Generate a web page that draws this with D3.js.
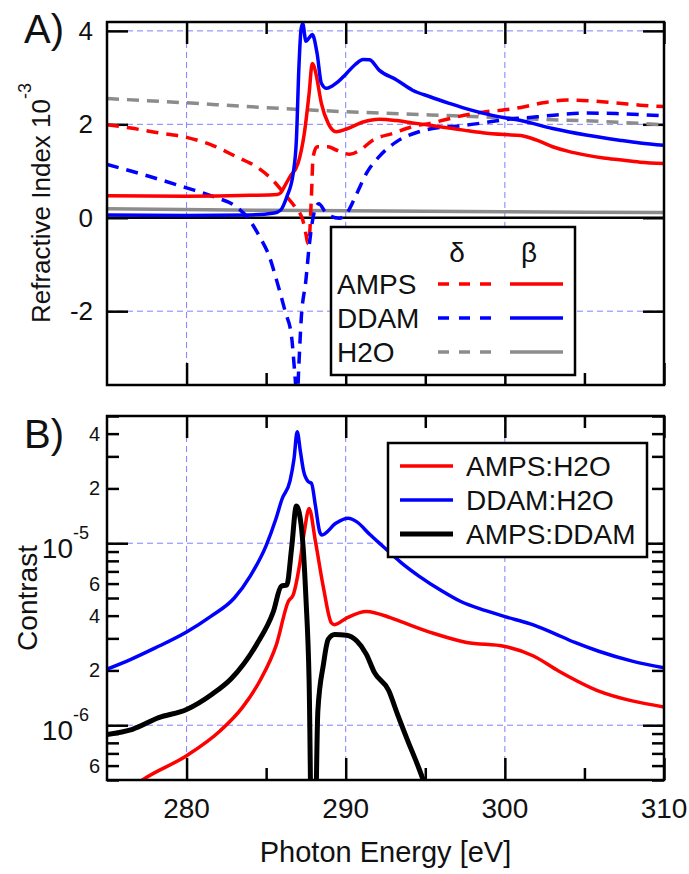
<!DOCTYPE html>
<html>
<head>
<meta charset="utf-8">
<script src="https://cdn.jsdelivr.net/npm/d3@7"></script>
<style>
  body { margin: 0; background: #fff; }
  text { font-family: "Liberation Sans", Arial, sans-serif; fill: #111; }
</style>
</head>
<body>
<div id="chart"></div>
<script>
const width = 689
const height = 874
const xLeft = 107
const xRight = 664
const panelA = { top: 22, bottom: 385 }
const panelB = { top: 416, bottom: 780 }

// x axis
const xMajorTicks = [280, 290, 300, 310]
const xMinorTicks = [285, 295, 305]
const xGrid = [280, 290, 300]

// panel A (refractive index, 1e-3)
const aTicks = [4, 2, 0, -2]
const aGrid = [4, 2, -2]
// [photon energy, value]
const ampsDelta = [[275,1.99],[276.5,1.92],[278,1.83],[280,1.72],[281.7,1.54],[283.1,1.31],[284.4,1.09],[285.4,0.81],[286.3,0.45],[286.8,0.24],[287.3,-0.05],[287.5,-0.35],[287.62,-0.55],[287.72,-0.4],[287.85,0.5],[287.95,1.3],[288.2,1.52],[288.9,1.52],[289.4,1.45],[290.25,1.36],[290.9,1.45],[291.7,1.66],[293,1.81],[294.2,1.95],[295.3,2.02],[297,2.16],[298.6,2.26],[300,2.31],[301,2.36],[302.4,2.46],[303.9,2.52],[305.5,2.5],[307.2,2.45],[308.5,2.41],[310,2.38]]
const ampsBeta = [[275,0.47],[280,0.46],[284,0.48],[285.7,0.5],[285.9,0.53],[286.2,0.7],[286.5,0.88],[287,1.16],[287.4,1.81],[287.7,2.66],[287.9,3.3],[288,3.25],[288.15,3.05],[288.47,2.45],[288.9,2.02],[289.4,1.84],[290.05,1.9],[291.1,2.05],[292.1,2.11],[293.2,2.08],[294.2,2.03],[295.3,1.98],[296.5,1.92],[297.5,1.87],[298.6,1.82],[300,1.78],[301,1.76],[302,1.66],[303,1.52],[304,1.42],[305.1,1.34],[306.2,1.28],[307.2,1.24],[308.5,1.19],[310,1.16]]
const ddamDelta = [[275,1.14],[276.5,1.0],[278,0.85],[280,0.64],[281.7,0.45],[283.1,0.24],[283.8,0.02],[284.6,-0.41],[285.2,-0.83],[285.65,-1.33],[286.2,-2.01],[286.6,-2.55],[286.8,-3.33],[286.95,-3.9],[287.05,-3.2],[287.2,-2.19],[287.5,-1.33],[287.7,-0.62],[288,0.09],[288.3,0.3],[288.8,0.09],[289.6,-0.01],[290.05,0.09],[290.7,0.52],[291.3,0.95],[292.1,1.31],[293.2,1.63],[294.6,1.84],[295.9,1.93],[297.3,1.97],[298.6,2.03],[300,2.1],[302,2.16],[303.5,2.21],[305.1,2.24],[307,2.23],[310,2.18]]
const ddamBeta = [[275,0.06],[280,0.05],[284,0.06],[285.5,0.1],[285.9,0.16],[286.3,0.45],[286.7,0.95],[286.9,1.66],[287.06,3.23],[287.2,4.05],[287.3,4.15],[287.5,3.78],[287.7,3.85],[287.9,3.92],[288.2,3.52],[288.47,2.88],[288.8,2.77],[289.4,2.88],[290.05,3.09],[290.6,3.28],[291.1,3.39],[291.5,3.38],[292.1,3.16],[293.2,2.95],[294.2,2.73],[295.3,2.59],[296.5,2.45],[297.5,2.34],[298.6,2.24],[300,2.14],[301,2.08],[303,1.91],[305.1,1.77],[307.2,1.66],[308.5,1.6],[310,1.55]]
const waterDelta = [[275,2.55],[280,2.46],[283.8,2.38],[290,2.27],[295.3,2.2],[300,2.14],[302,2.11],[306.2,2.06],[310,1.99]]
const waterBeta = [[275,0.19],[285,0.16],[290,0.15],[300,0.13],[310,0.11]]

// panel B (contrast, log)
const bMinorLabels = [2, 4, 6]
const ampsWater = [[275,3.6e-7],[276.2,4.3e-7],[277.3,5.05e-7],[280,6.8e-7],[282.1,9.3e-7],[283.5,1.25e-6],[284.6,1.75e-6],[285.65,2.78e-6],[286.4,4.8e-6],[286.7,5.2e-6],[287.1,7.6e-6],[287.4,1.16e-5],[287.7,1.55e-5],[288.1,1.02e-5],[288.6,5.7e-6],[289.1,3.65e-6],[289.3,3.57e-6],[290.05,3.88e-6],[291.3,4.22e-6],[292.8,3.9e-6],[293.4,3.73e-6],[295.5,3.2e-6],[297.6,2.85e-6],[300,2.71e-6],[301.8,2.4e-6],[303.4,1.98e-6],[305.9,1.54e-6],[308,1.36e-6],[310,1.26e-6]]
const ddamWater = [[275,2.03e-6],[276.5,2.3e-6],[278,2.65e-6],[280,3.25e-6],[281.5,3.95e-6],[283,5.0e-6],[284,6.6e-6],[285,9.7e-6],[285.6,1.35e-5],[286,1.75e-5],[286.5,2.2e-5],[286.75,2.9e-5],[286.95,4.1e-5],[287.15,3.2e-5],[287.35,2.5e-5],[287.65,2.18e-5],[287.85,2.13e-5],[288.1,1.6e-5],[288.37,1.15e-5],[288.5,1.11e-5],[289.4,1.29e-5],[290.15,1.37e-5],[290.7,1.31e-5],[291.5,1.12e-5],[292.35,9.6e-6],[293.5,7.8e-6],[294.6,6.6e-6],[296,5.5e-6],[297.2,4.8e-6],[298.8,4.26e-6],[300,3.95e-6],[301.6,3.6e-6],[302.8,3.28e-6],[304.4,2.85e-6],[305.9,2.55e-6],[308,2.25e-6],[310,2.07e-6]]
const ampsDdam = [[275,8.9e-7],[276.6,9.5e-7],[278.25,1.1e-6],[280,1.22e-6],[281.6,1.48e-6],[282.8,1.8e-6],[284.4,2.78e-6],[285.45,4.2e-6],[285.95,5.8e-6],[286.3,5.9e-6],[286.6,9.4e-6],[286.9,1.6e-5],[287.2,1.26e-5],[287.5,5.0e-6],[287.7,1.75e-6],[287.95,5e-8],[288.25,1.2e-6],[288.6,2.16e-6],[288.9,2.96e-6],[289.3,3.15e-6],[290.05,3.12e-6],[290.7,2.9e-6],[291.3,2.45e-6],[291.8,1.95e-6],[292.7,1.55e-6],[293.25,1.15e-6],[293.9,8.2e-7],[294.5,6.1e-7],[294.9,4.9e-7],[295.2,4.0e-7]]

const red = '#ff0000'
const blue = '#0000ff'
const gray = '#8c8c8c'
const gridColor = '#8080ff'

const x = d3.scaleLinear().domain([275, 310]).range([xLeft, xRight])
const yA = d3.scaleLinear().domain([-3.58, 4.19]).range([panelA.bottom, panelA.top])
const yB = d3.scaleLog().domain([5e-7, 5e-5]).range([panelB.bottom, panelB.top])

const svg = d3.select('#chart').append('svg')
  .attr('width', width)
  .attr('height', height)

const clip = (id, p) => svg.append('clipPath').attr('id', id)
  .append('rect')
    .attr('x', xLeft).attr('y', p.top)
    .attr('width', xRight - xLeft).attr('height', p.bottom - p.top)
clip('clipA', panelA)
clip('clipB', panelB)

const strip = g => g.call(g => g.selectAll('.domain, text').remove())
  .call(g => g.selectAll('line').attr('stroke', '#000').attr('stroke-width', 2.5))

// grids
const grid = (p, yScale, yVals) => {
  const g = svg.append('g')
    .attr('stroke', gridColor)
    .attr('stroke-width', 1)
    .attr('stroke-dasharray', '6,4')
  g.selectAll('.vg').data(xGrid).enter().append('line')
    .attr('x1', d => x(d)).attr('x2', d => x(d))
    .attr('y1', p.top).attr('y2', p.bottom)
  g.selectAll('.hg').data(yVals).enter().append('line')
    .attr('x1', xLeft).attr('x2', xRight)
    .attr('y1', d => yScale(d)).attr('y2', d => yScale(d))
}
grid(panelA, yA, aGrid)
grid(panelB, yB, [1e-5, 1e-6])

// inward ticks on all four sides
const xTickAxes = p => {
  svg.append('g').attr('transform', `translate(0,${p.bottom})`)
    .call(d3.axisBottom(x).tickValues(xMajorTicks).tickSize(-22)).call(strip)
  svg.append('g').attr('transform', `translate(0,${p.bottom})`)
    .call(d3.axisBottom(x).tickValues(xMinorTicks).tickSize(-12)).call(strip)
  svg.append('g').attr('transform', `translate(0,${p.top})`)
    .call(d3.axisTop(x).tickValues(xMajorTicks).tickSize(-22)).call(strip)
  svg.append('g').attr('transform', `translate(0,${p.top})`)
    .call(d3.axisTop(x).tickValues(xMinorTicks).tickSize(-12)).call(strip)
}
xTickAxes(panelA)
xTickAxes(panelB)

svg.append('g').attr('transform', `translate(${xLeft},0)`)
  .call(d3.axisLeft(yA).tickValues(aTicks).tickSize(-21)).call(strip)
svg.append('g').attr('transform', `translate(${xRight},0)`)
  .call(d3.axisRight(yA).tickValues(aTicks).tickSize(-21)).call(strip)

const isDecade = d => Math.abs(Math.log10(d) - Math.round(Math.log10(d))) < 1e-6
const bTicks = yB.ticks()
const bMajor = bTicks.filter(isDecade)
const bMinor = bTicks.filter(d => !isDecade(d))
;[[d3.axisLeft, xLeft], [d3.axisRight, xRight]].forEach(([axis, px]) => {
  svg.append('g').attr('transform', `translate(${px},0)`)
    .call(axis(yB).tickValues(bMajor).tickSize(-21)).call(strip)
  svg.append('g').attr('transform', `translate(${px},0)`)
    .call(axis(yB).tickValues(bMinor).tickSize(-12)).call(strip)
})

// zero line
svg.append('line')
  .attr('x1', xLeft).attr('x2', xRight)
  .attr('y1', yA(0)).attr('y2', yA(0))
  .attr('stroke', '#000').attr('stroke-width', 2.5)

// curves
const lineA = d3.line().x(d => x(d[0])).y(d => yA(d[1])).curve(d3.curveMonotoneX)
const lineB = d3.line().x(d => x(d[0])).y(d => yB(d[1])).curve(d3.curveMonotoneX)

const seriesA = [
  { data: waterBeta, color: gray, dash: null },
  { data: waterDelta, color: gray, dash: '12,8' },
  { data: ampsDelta, color: red, dash: '12,8' },
  { data: ddamDelta, color: blue, dash: '12,8' },
  { data: ampsBeta, color: red, dash: null },
  { data: ddamBeta, color: blue, dash: null },
]
svg.append('g').attr('clip-path', 'url(#clipA)')
  .selectAll('path').data(seriesA).enter().append('path')
    .attr('d', d => lineA(d.data))
    .attr('fill', 'none')
    .attr('stroke', d => d.color)
    .attr('stroke-width', 3.5)
    .attr('stroke-dasharray', d => d.dash)

const seriesB = [
  { data: ddamWater, color: blue, w: 3.5 },
  { data: ampsWater, color: red, w: 3.5 },
  { data: ampsDdam, color: '#000', w: 5 },
]
svg.append('g').attr('clip-path', 'url(#clipB)')
  .selectAll('path').data(seriesB).enter().append('path')
    .attr('d', d => lineB(d.data))
    .attr('fill', 'none')
    .attr('stroke', d => d.color)
    .attr('stroke-width', d => d.w)
    .attr('stroke-linejoin', 'round')

// frames
;[panelA, panelB].forEach(p => svg.append('rect')
  .attr('x', xLeft).attr('y', p.top)
  .attr('width', xRight - xLeft).attr('height', p.bottom - p.top)
  .attr('fill', 'none').attr('stroke', '#000').attr('stroke-width', 2.5))

// tick labels
svg.append('g').selectAll('text').data(aTicks).enter().append('text')
  .attr('x', 93).attr('y', d => yA(d) + 9)
  .attr('text-anchor', 'end').attr('font-size', 26)
  .text(d => d)

svg.append('g').selectAll('text').data(xMajorTicks).enter().append('text')
  .attr('x', d => x(d)).attr('y', 818)
  .attr('text-anchor', 'middle').attr('font-size', 28)
  .text(d => d)

const mantissa = d => Math.round(d / Math.pow(10, Math.floor(Math.log10(d) + 1e-9)))
svg.append('g').selectAll('text')
  .data(bMinor.filter(d => bMinorLabels.includes(mantissa(d))))
  .enter().append('text')
    .attr('x', 100).attr('y', d => yB(d) + 7)
    .attr('text-anchor', 'end').attr('font-size', 20)
    .text(mantissa)

const decLabels = svg.append('g').selectAll('text').data(bMajor).enter().append('text')
  .attr('x', 89).attr('y', d => yB(d) + 15)
  .attr('text-anchor', 'end').attr('font-size', 28)
decLabels.append('tspan').text('10')
decLabels.append('tspan').attr('dy', -19).attr('font-size', 18)
  .text(d => Math.round(Math.log10(d)))

// axis titles
const yTitleA = svg.append('text')
  .attr('transform', 'translate(50,203) rotate(-90)')
  .attr('text-anchor', 'middle').attr('font-size', 26)
yTitleA.append('tspan').text('Refractive Index 10')
yTitleA.append('tspan').attr('dy', -19).attr('font-size', 18).text('-3')

svg.append('text')
  .attr('transform', 'translate(37,598) rotate(-90)')
  .attr('text-anchor', 'middle').attr('font-size', 28)
  .text('Contrast')

svg.append('text')
  .attr('x', (xLeft + xRight) / 2).attr('y', 862)
  .attr('text-anchor', 'middle').attr('font-size', 29)
  .text('Photon Energy [eV]')

svg.append('text').attr('x', 24).attr('y', 43).attr('font-size', 40).text('A)')
svg.append('text').attr('x', 24).attr('y', 448).attr('font-size', 40).text('B)')

// legend A
const legA = svg.append('g')
legA.append('rect')
  .attr('x', 331).attr('y', 227).attr('width', 244).attr('height', 148)
  .attr('fill', '#fff').attr('stroke', '#000').attr('stroke-width', 2.5)
legA.append('text').attr('x', 457).attr('y', 262).attr('text-anchor', 'middle').attr('font-size', 28).text('δ')
legA.append('text').attr('x', 529).attr('y', 262).attr('text-anchor', 'middle').attr('font-size', 28).text('β')
const legAItems = [['AMPS', red], ['DDAM', blue], ['H2O', gray]]
legAItems.forEach(([name, color], i) => {
  const cy = 284 + i * 34
  legA.append('text').attr('x', 337).attr('y', cy + 10).attr('font-size', 28).text(name)
  legA.append('line').attr('x1', 438).attr('x2', 491).attr('y1', cy).attr('y2', cy)
    .attr('stroke', color).attr('stroke-width', 3.5).attr('stroke-dasharray', '11,10')
  legA.append('line').attr('x1', 510).attr('x2', 563).attr('y1', cy).attr('y2', cy)
    .attr('stroke', color).attr('stroke-width', 3.5)
})

// legend B
const legB = svg.append('g')
legB.append('rect')
  .attr('x', 388).attr('y', 443).attr('width', 259).attr('height', 114)
  .attr('fill', '#fff').attr('stroke', '#000').attr('stroke-width', 2.5)
const legBItems = [['AMPS:H2O', red, 3.5], ['DDAM:H2O', blue, 3.5], ['AMPS:DDAM', '#000', 5]]
legBItems.forEach(([name, color, w], i) => {
  const cy = 466 + i * 34
  legB.append('line').attr('x1', 400).attr('x2', 453).attr('y1', cy).attr('y2', cy)
    .attr('stroke', color).attr('stroke-width', w)
  legB.append('text').attr('x', 466).attr('y', cy + 10).attr('font-size', 28).text(name)
})
</script>
</body>
</html>
